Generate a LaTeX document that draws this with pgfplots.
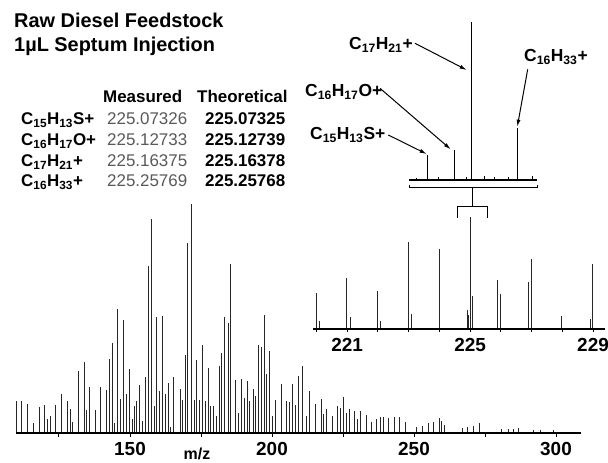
\documentclass[border=0pt]{standalone}
\usepackage{pgfplots}
\pgfplotsset{compat=1.18}
\usepackage{pgfplotstable}
\usepackage{fontspec}
\setmainfont{Liberation Sans}
\usetikzlibrary{arrows.meta}

\definecolor{measgray}{gray}{0.35}

% full spectrum, m/z and relative height
\pgfplotstableread{
mz h
110.1 32
111.9 32
113.8 29
115.8 10
118.0 26
119.7 28
121.0 14
121.8 17
123.7 28
125.8 39
127.9 32
128.9 24
129.7 11
131.7 62
133.8 71
134.8 23
135.7 46
137.9 23
139.7 46
141.5 43
142.6 74
143.7 90
144.6 10
145.4 124
146.5 34
147.5 113
148.6 39
149.6 64
150.7 14
151.5 27
152.4 32
153.3 48
154.3 12
155.4 56
156.4 167
157.6 214
158.5 27
159.4 116
160.3 42
161.5 117
162.3 39
163.4 50
164.3 6
165.2 56
167.6 44
168.6 33
169.5 78
170.2 190
171.5 229
172.5 33
173.5 73
174.4 33
175.4 88
176.4 32
177.5 65
178.4 27
179.5 27
180.5 17
181.3 67
182.3 80
183.2 116
184.5 110
185.2 169
187.2 53
188.3 20
189.2 54
190.1 35
191.2 52
192.1 32
193.3 44
194.3 37
195.3 88
196.1 86
197.3 118
198.1 59
199.2 82
200.2 17
201.2 33
203.2 49
205.2 32
206.1 31
207.3 49
208.2 28
209.3 57
210.8 67
212.0 17
213.1 42
215.1 29
217.3 34
218.1 19
219.3 24
221.2 17
223.0 27
223.9 25
225.1 36
226.3 20
227.2 24
228.9 22
230.0 14
231.1 22
233.1 18
234.9 11
236.9 14
238.0 16
239.2 16
240.9 15
243.1 16
244.8 16
246.8 11
251.0 6
253.1 7
255.0 10
256.8 11
258.9 15
259.8 12
260.6 8
267.1 5
268.9 6
270.9 7
273.0 10
280.9 4
283.1 4
284.9 4
286.6 5
291.9 3
294.4 3
299.0 3
}\mainpeaks

% zoom 220-229
\pgfplotstableread{
mz h
220.01 36
220.10 8
220.99 51
221.09 12
221.99 38
222.08 8
222.99 87
223.09 15
223.99 80
224.91 19
224.95 14
225.00 112
225.09 33
225.90 49
225.99 35
226.90 47
226.98 70
227.98 13
228.90 10
228.99 65
}\midpeaks

% high resolution view of nominal mass 225
\pgfplotstableread{
mz h
225.0500 2
225.0733 25
225.0950 3
225.1273 30
225.1530 3
225.1638 158
225.1900 4
225.2100 3
225.2400 3
225.2577 52
225.2900 4
}\toppeaks

\begin{document}
\begin{tikzpicture}
\useasboundingbox (0,0) rectangle (608bp,463bp);

\begin{axis}[
    at={(16bp,30bp)}, anchor=south west,
    scale only axis, width=565bp, height=229bp,
    xmin=109.86, xmax=308.8, ymin=0, ymax=229,
    axis y line=none, axis x line*=bottom,
    axis line style={line width=2.4bp},
    xtick={125,150,...,300}, xticklabels={,150,,200,,250,,300},
    tick align=outside, major tick length=4bp,
    tick style={line width=1bp, black},
    xticklabel style={font=\bfseries\fontsize{19}{19}\selectfont, yshift=-2bp},
    clip=false,
  ]
  \addplot[ycomb, line width=0.7bp, black!85] table {\mainpeaks};
  \draw[line width=2.6bp] (rel axis cs:0,0) -- (rel axis cs:1,0);
\end{axis}

\begin{axis}[
    at={(313bp,134bp)}, anchor=south west,
    scale only axis, width=292bp, height=113bp,
    xmin=219.89, xmax=229.39, ymin=0, ymax=113,
    axis y line=none, axis x line*=bottom,
    axis line style={line width=2.2bp},
    xtick={220,...,229}, xticklabels={,221,,,,225,,,,229},
    tick align=outside, major tick length=3bp,
    tick style={line width=0.8bp, black},
    xticklabel style={font=\bfseries\fontsize{19}{19}\selectfont, yshift=-3bp},
    clip=false,
  ]
  \addplot[ycomb, line width=0.7bp, black!85] table {\midpeaks};
  \draw[line width=2.4bp] (rel axis cs:0,0) -- (rel axis cs:1,0);
\end{axis}

\begin{axis}[
    at={(409bp,283bp)}, anchor=south west,
    scale only axis, width=128bp, height=158bp,
    xmin=225.034, xmax=225.299, ymin=0, ymax=158,
    axis y line=none, axis x line*=bottom,
    axis line style={line width=1.6bp},
    xtick=\empty,
    clip=false,
  ]
  \addplot[ycomb, line width=1bp, black] table {\toppeaks};
  \draw[line width=1.8bp] (rel axis cs:0,0) -- (rel axis cs:1,0);
\end{axis}

% brackets linking the two zooms
\draw[line width=1bp] (409bp,278bp) -- (409bp,275bp) -- (537bp,275bp) -- (537bp,278bp);
\draw[line width=1bp] (472bp,275bp) -- (472bp,256bp);
\draw[line width=1bp] (457bp,245bp) -- (457bp,256bp) -- (487bp,256bp) -- (487bp,245bp);

% peak labels
\begin{scope}[every node/.style={anchor=base west, inner sep=0pt, font=\bfseries\fontsize{17.5}{17.5}\selectfont}]
  \node at (349bp,413bp) {C\textsubscript{17}H\textsubscript{21}+};
  \node at (524bp,401bp) {C\textsubscript{16}H\textsubscript{33}+};
  \node at (305bp,366bp) {C\textsubscript{16}H\textsubscript{17}O+};
  \node at (310bp,323bp) {C\textsubscript{15}H\textsubscript{13}S+};
\end{scope}
\begin{scope}[line width=1bp, -{Latex[length=7bp,width=4bp]}]
  \draw (415bp,419.7bp) -- (466.7bp,393bp);
  \draw (527.7bp,393.7bp) -- (517.3bp,336.3bp);
  \draw (380bp,374.7bp) -- (450.7bp,313.7bp);
  \draw (388.3bp,328bp) -- (426.7bp,309bp);
\end{scope}

% title
\begin{scope}[every node/.style={anchor=base west, inner sep=0pt, font=\bfseries\fontsize{20}{20}\selectfont}]
  \node at (14bp,435bp) {Raw Diesel Feedstock};
  \node at (14bp,411bp) {1µL Septum Injection};
\end{scope}

% mass table
\begin{scope}[every node/.style={anchor=base west, inner sep=0pt, font=\fontsize{17}{17}\selectfont}]
  \node[font=\bfseries\fontsize{17}{17}\selectfont] at (103bp,360bp) {Measured};
  \node[font=\bfseries\fontsize{17}{17}\selectfont] at (197bp,360bp) {Theoretical};
  \node[font=\bfseries\fontsize{17}{17}\selectfont] at (21bp,338bp) {C\textsubscript{15}H\textsubscript{13}S+};
  \node[font=\bfseries\fontsize{17}{17}\selectfont] at (21bp,317bp) {C\textsubscript{16}H\textsubscript{17}O+};
  \node[font=\bfseries\fontsize{17}{17}\selectfont] at (21bp,296bp) {C\textsubscript{17}H\textsubscript{21}+};
  \node[font=\bfseries\fontsize{17}{17}\selectfont] at (21bp,276bp) {C\textsubscript{16}H\textsubscript{33}+};
  \node[text=measgray] at (107bp,338bp) {225.07326};
  \node[text=measgray] at (107bp,317bp) {225.12733};
  \node[text=measgray] at (107bp,296bp) {225.16375};
  \node[text=measgray] at (107bp,276bp) {225.25769};
  \node[font=\bfseries\fontsize{17}{17}\selectfont] at (205bp,338bp) {225.07325};
  \node[font=\bfseries\fontsize{17}{17}\selectfont] at (205bp,317bp) {225.12739};
  \node[font=\bfseries\fontsize{17}{17}\selectfont] at (205bp,296bp) {225.16378};
  \node[font=\bfseries\fontsize{17}{17}\selectfont] at (205bp,276bp) {225.25768};
\end{scope}

% axis title, near the page edge as in the figure
\node[anchor=base, inner sep=0pt, font=\bfseries\fontsize{16}{16}\selectfont] at (197bp,4bp) {m/z};
\end{tikzpicture}
\end{document}
